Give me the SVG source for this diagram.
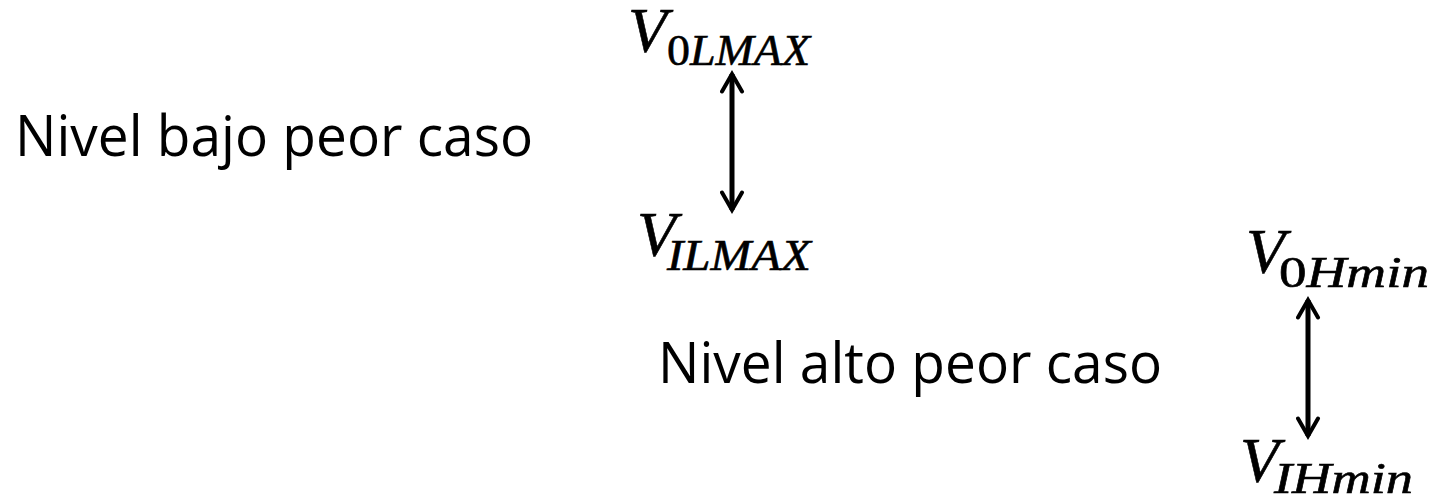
<svg xmlns="http://www.w3.org/2000/svg" width="1435" height="499" viewBox="0 0 1435 499">
  <style>
    .label { font-family: "Open Sans", "Noto Sans", sans-serif; font-size: 57px; fill: #000; }
    .v { font-family: "Liberation Serif", "DejaVu Serif", serif; font-style: italic; font-size: 64px; fill: #000; stroke: #000; stroke-width: 0.6; }
    .sub { font-family: "Liberation Serif", "DejaVu Serif", serif; font-style: italic; font-size: 44px; fill: #000; stroke: #000; stroke-width: 0.6; }
    .up { font-style: normal; }
    .conn { stroke: #000; stroke-width: 5; fill: none; }
  </style>
  <defs>
    <marker id="chev" viewBox="0 0 10 10" refX="8" refY="5" markerWidth="5" markerHeight="5" orient="auto-start-reverse" markerUnits="strokeWidth">
      <path d="M1,1 L8,5 L1,9" fill="none" stroke="#000" stroke-width="1.6" stroke-linecap="round" stroke-linejoin="miter"/>
    </marker>
  </defs>
  <rect width="1435" height="499" fill="#fff"/>

  <!-- state labels -->
  <g id="low-label">
    <text class="label" x="15" y="156" textLength="518" lengthAdjust="spacingAndGlyphs">Nivel bajo peor caso</text>
  </g>
  <g id="high-label">
    <text class="label" x="658" y="383" textLength="504" lengthAdjust="spacingAndGlyphs">Nivel alto peor caso</text>
  </g>

  <!-- voltage symbols: italic V with subscript -->
  <g id="v-olmax">
    <text class="v" x="628" y="52">V</text>
    <text class="sub" x="667" y="65" textLength="143" lengthAdjust="spacingAndGlyphs"><tspan class="up">0</tspan>LMAX</text>
  </g>
  <g id="v-ilmax">
    <text class="v" x="637" y="256">V</text>
    <text class="sub" x="667" y="270" textLength="144" lengthAdjust="spacingAndGlyphs">ILMAX</text>
  </g>
  <g id="v-ohmin">
    <text class="v" x="1246" y="273">V</text>
    <text class="sub" x="1279" y="287" textLength="150" lengthAdjust="spacingAndGlyphs"><tspan class="up">0</tspan>Hmin</text>
  </g>
  <g id="v-ihmin">
    <text class="v" x="1240" y="482">V</text>
    <text class="sub" x="1274" y="493" textLength="139" lengthAdjust="spacingAndGlyphs">IHmin</text>
  </g>

  <!-- double-headed arrows -->
  <g id="connectors">
    <line class="conn" x1="732" y1="74" x2="732" y2="210" marker-start="url(#chev)" marker-end="url(#chev)"/>
    <line class="conn" x1="1308" y1="300" x2="1308" y2="436" marker-start="url(#chev)" marker-end="url(#chev)"/>
  </g>
</svg>
